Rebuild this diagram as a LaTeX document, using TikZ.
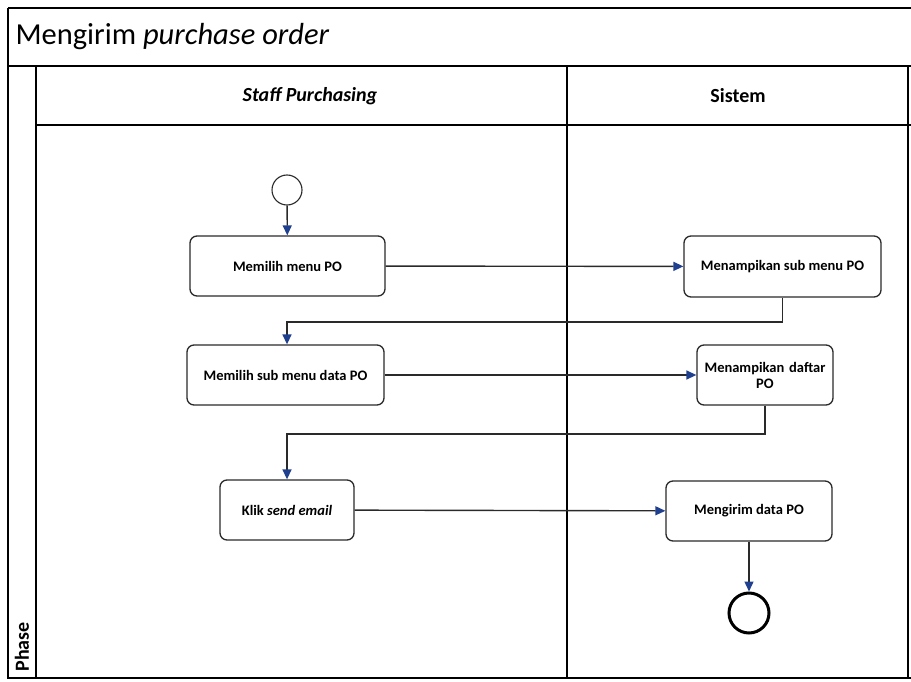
\documentclass[tikz,border=0pt]{standalone}
\usepackage{fontspec}
\setmainfont{Carlito}
\usetikzlibrary{arrows.meta}
\definecolor{arrowblue}{HTML}{1F3F8F}
\definecolor{linegray}{HTML}{2A2A2A}
\tikzset{
  frame/.style={draw=black, line width=1.4pt},
  act/.style={draw=linegray, line width=1.3pt, rounded corners=7pt, fill=white, font=\bfseries\fontsize{14.5}{16}\selectfont, align=center, inner sep=1pt},
  flow/.style={draw=linegray, line width=1.4pt, -{Triangle[length=10pt,width=9pt,fill=arrowblue,color=arrowblue]}},
  lane/.style={font=\bfseries\fontsize{20}{24}\selectfont}
}
\begin{document}
\begin{tikzpicture}[x=1pt,y=-1pt]
\useasboundingbox (0,0) rectangle (911,682);
\fill[white] (0,0) rectangle (911,682);
% frame
\draw[frame] (8,8) -- (911,8);
\draw[frame] (8,8) -- (8,678) -- (911,678);
\draw[frame] (8,66) -- (911,66);
\draw[frame] (36,66) -- (36,678);
\draw[frame] (36,125) -- (911,125);
\draw[frame] (567,66) -- (567,678);
\draw[frame] (908,66) -- (908,678);
% title
\node[anchor=west, font=\fontsize{30.5}{34}\selectfont] (title) at (12,37) {Mengirim \textit{purchase order}};
\node[lane] (lane1) at (310,96) {\textit{Staff Purchasing}};
\node[lane] (lane2) at (738,96) {Sistem};
\node[rotate=90, anchor=west, font=\bfseries\fontsize{20}{24}\selectfont] (phase) at (22,675) {Phase};
% nodes
\node[circle, draw=linegray, line width=1.1pt, minimum size=30pt, inner sep=0pt] (start) at (287,190) {};
\node[act, minimum width=195pt, minimum height=60pt] (a1) at (287.5,266) {Memilih menu PO};
\node[act, minimum width=197pt, minimum height=61pt] (a2) at (782.5,266.5) {Menampikan sub menu PO};
\node[act, minimum width=136pt, minimum height=60pt, text width=132pt] (a4) at (765,375) {Menampikan daftar\\PO};
\node[act, minimum width=197pt, minimum height=60pt] (a3) at (285.5,375) {Memilih sub menu data PO};
\node[act, minimum width=134pt, minimum height=60pt] (a5) at (287,510) {Klik \textit{send email}};
\node[act, minimum width=166pt, minimum height=60pt] (a6) at (749,511) {Mengirim data PO};
\node[circle, draw=black, line width=3pt, minimum size=40pt, inner sep=0pt] (end) at (749,613) {};
% flows
\draw[flow] (start) -- (a1);
\draw[flow] (a1) -- (a2);
\draw[flow] (a2.south) -- (782.5,322) -| (a3.north -| 287,0);
\draw[flow] (a3) -- (a4);
\draw[flow] (a4.south) -- (765,434) -| (a5.north);
\draw[flow] (a5) -- (a6);
\draw[flow] (a6) -- (end);
\end{tikzpicture}
\end{document}
